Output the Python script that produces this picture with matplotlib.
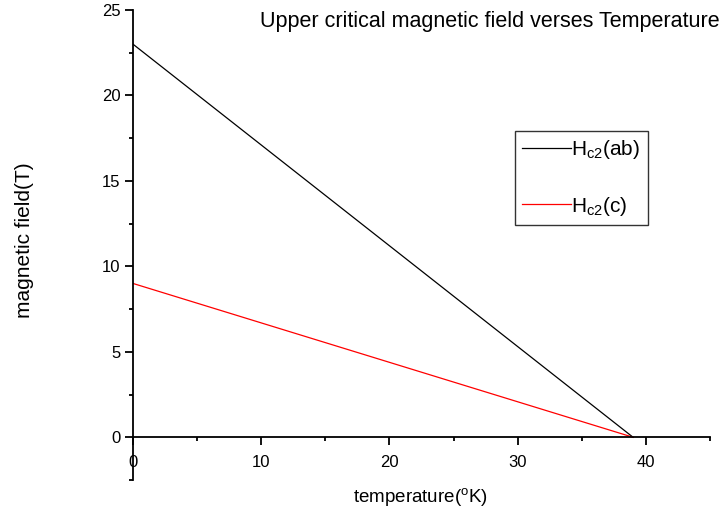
import matplotlib
matplotlib.use("Agg")
import matplotlib.pyplot as plt
from matplotlib.ticker import MultipleLocator

plt.rcParams['font.family'] = ['Liberation Sans', 'DejaVu Sans']
plt.rcParams['mathtext.fontset'] = 'custom'
plt.rcParams['mathtext.rm'] = 'Liberation Sans'
plt.rcParams['mathtext.it'] = 'Liberation Sans'

temperature = [0, 39]
hc2_ab = [23, 0]
hc2_c = [9, 0]
xticks = [0, 10, 20, 30, 40]
yticks = [0, 5, 10, 15, 20, 25]

fig = plt.figure(figsize=(7.27, 5.12), dpi=100)
W, H = 727, 512
ax = fig.add_axes([133 / W, 1 - 480 / H, (710 - 133) / W, (480 - 10) / H])

ax.plot(temperature, hc2_ab, color='black', lw=0.9, label=r'H$_{\mathrm{c2}}$(ab)')
ax.plot(temperature, hc2_c, color='red', lw=0.9, label=r'H$_{\mathrm{c2}}$(c)')

ax.set_xlim(0, 45)
ax.set_ylim(-2.5, 25)
ax.spines['top'].set_visible(False)
ax.spines['right'].set_visible(False)
ax.spines['bottom'].set_position(('data', 0))
ax.spines['bottom'].set_linewidth(1.3)
ax.spines['left'].set_linewidth(1.3)

ax.set_xticks(xticks)
ax.set_yticks(yticks)
ax.xaxis.set_minor_locator(MultipleLocator(5))
ax.yaxis.set_minor_locator(MultipleLocator(2.5))
ax.tick_params(axis='both', which='major', direction='out', length=6, width=1.3, labelsize=12)
ax.tick_params(axis='both', which='minor', direction='out', length=3, width=1.3)
ax.tick_params(axis='x', pad=7)
ax.tick_params(axis='y', pad=3)

ax.set_xlabel(r'temperature($^{\mathrm{o}}$K)', fontsize=13.5, va='center')
ax.xaxis.set_label_coords((420 - 133) / (710 - 133), -(497 - 480) / 470)
ax.set_ylabel('magnetic field(T)', fontsize=15, va='center')
ax.yaxis.set_label_coords((25 - 133) / (710 - 133), 1 - (240 - 10) / 470)

fig.text(490 / W, 1 - 21 / H, 'Upper critical magnetic field verses Temperature',
         fontsize=15.5, ha='center', va='center')

leg = ax.legend(loc='upper left', bbox_to_anchor=(515 / W, 1 - 131 / H),
                bbox_transform=fig.transFigure, frameon=True, fancybox=False,
                edgecolor='black', fontsize=15, handlelength=2.35, handletextpad=0.0,
                labelspacing=1.6, borderpad=0.35, borderaxespad=0.0)
leg.get_frame().set_linewidth(1.0)

fig.savefig('out.png', dpi=100)
